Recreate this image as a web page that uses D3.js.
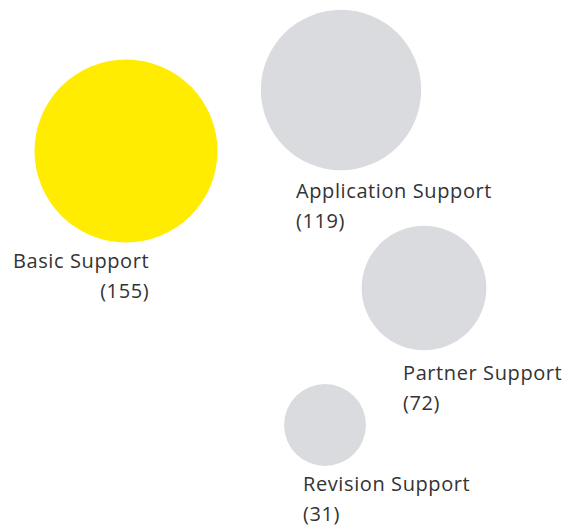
<!DOCTYPE html>
<html>
<head>
<meta charset="utf-8">
<script src="https://cdn.jsdelivr.net/npm/d3@7"></script>
<style>
  body { margin: 0; background: #fff; }
  text { font-family: "Open Sans", "Noto Sans", sans-serif; fill: #333; letter-spacing: 0.6px; }
</style>
</head>
<body>
<svg id="bubbles"></svg>
<script>
// data
var categories = ["Basic Support", "Application Support", "Partner Support", "Revision Support"]
var counts = [155, 119, 72, 31]
var highlight = ["Basic Support"]

// layout (bubble centres, label anchors) in page pixels
var width = 565, height = 526
var centres = [[126, 151], [341, 90], [424, 288], [325, 425]]
var labelPos = [
    {x: 13, y: 268, align: "right"},
    {x: 296, y: 198, align: "left"},
    {x: 403, y: 380, align: "left"},
    {x: 303, y: 491, align: "left"}
]
var lineGap = 30

var svg = d3.select("svg#bubbles")
    .attr("width", width)
    .attr("height", height)

var rScale = d3.scaleSqrt().domain([0, d3.max(counts)]).range([0, 91.5])
var color = function(name) { return highlight.indexOf(name) >= 0 ? "#ffec00" : "#dadbde" }

var data = categories.map(function(c, i) {
    return {name: c, value: counts[i], cx: centres[i][0], cy: centres[i][1], label: labelPos[i]}
})

svg.selectAll("circle.bubble")
    .data(data)
    .enter()
    .append("circle")
    .attr("class", "bubble")
    .attr("cx", function(d) { return d.cx })
    .attr("cy", function(d) { return d.cy })
    .attr("r", function(d) { return rScale(d.value) })
    .attr("fill", function(d) { return color(d.name) })

var labels = svg.selectAll("g.label")
    .data(data)
    .enter()
    .append("g")
    .attr("class", "label")

labels.append("text")
    .attr("x", function(d) { return d.label.x })
    .attr("y", function(d) { return d.label.y })
    .attr("font-size", "20px")
    .text(function(d) { return d.name })

labels.append("text")
    .attr("y", function(d) { return d.label.y + lineGap })
    .attr("font-size", "20px")
    .text(function(d) { return "(" + d.value + ")" })
    .each(function(d) {
        var t = d3.select(this)
        if (d.label.align == "right") {
            var w = d3.select(this.parentNode).select("text").node().getComputedTextLength()
            t.attr("x", d.label.x + w).attr("text-anchor", "end")
        } else {
            t.attr("x", d.label.x)
        }
    })
</script>
</body>
</html>
